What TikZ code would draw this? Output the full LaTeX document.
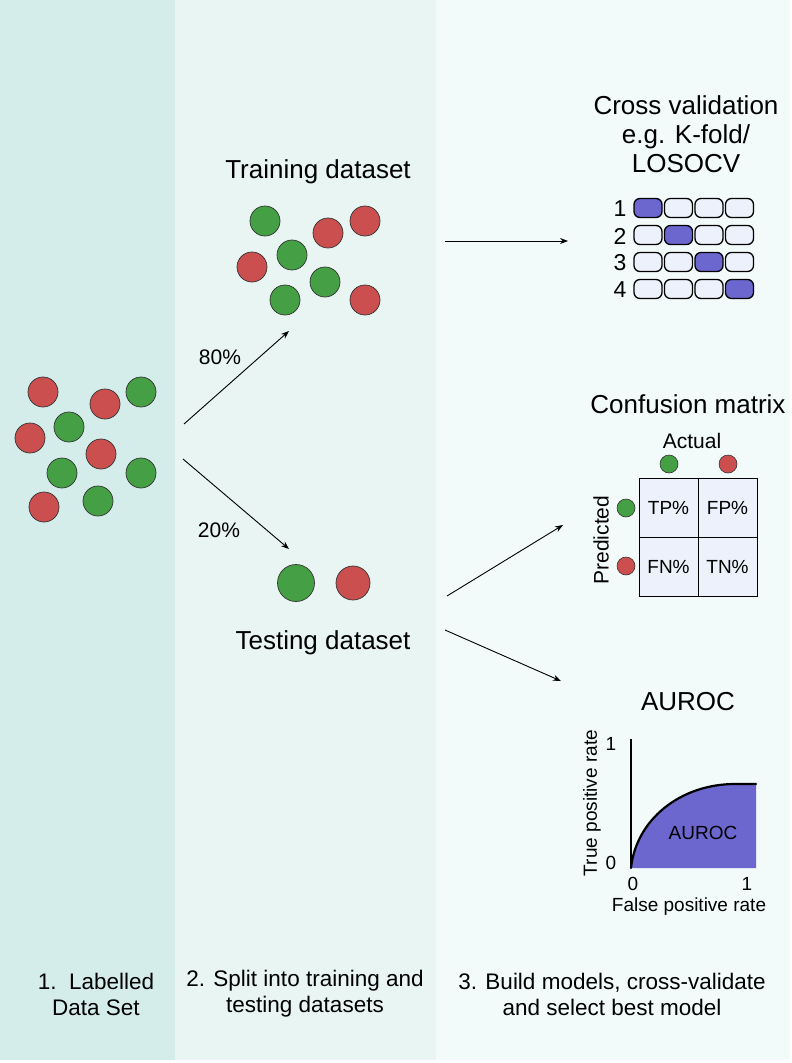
\documentclass[tikz,border=0pt]{standalone}
\usepackage{fontspec}
\setmainfont{Liberation Sans}
\usetikzlibrary{arrows.meta}
\definecolor{pone}{HTML}{D4EDEA}
\definecolor{ptwo}{HTML}{E8F5F3}
\definecolor{pthree}{HTML}{F3FAFA}
\definecolor{gcol}{HTML}{45A045}
\definecolor{rcol}{HTML}{CC4F4F}
\definecolor{purp}{HTML}{6B67CF}
\definecolor{lbox}{HTML}{EDF1FB}
\tikzset{
  ball/.style={circle, draw=black!80, line width=0.7pt, inner sep=0pt, minimum size=30pt},
  gball/.style={ball, fill=gcol},
  rball/.style={ball, fill=rcol},
  sball/.style={circle, draw=black!80, line width=0.6pt, inner sep=0pt, minimum size=18pt},
  arr/.style={line width=0.9pt, -{Stealth[length=8pt,width=6pt]}},
  title/.style={font=\fontsize{26}{29}\selectfont, align=center},
  mid/.style={font=\fontsize{21}{24}\selectfont},
  small/.style={font=\fontsize{19}{22}\selectfont},
  bottom/.style={font=\fontsize{22.5}{26}\selectfont, align=center},
  fold/.style={draw=black, line width=1.3pt, rounded corners=6pt, minimum width=28pt, minimum height=19pt, inner sep=0pt, fill=lbox},
  foldon/.style={fold, fill=purp},
  cell/.style={draw=black, line width=1pt, minimum size=59pt, inner sep=0pt, fill=lbox, font=\fontsize{19}{22}\selectfont}
}
\begin{document}
\begin{tikzpicture}[x=1pt,y=-1pt]
\useasboundingbox (0,0) rectangle (792,1063);
\fill[pone] (0,0) rectangle (175,1060);
\fill[ptwo] (175,0) rectangle (436,1060);
\fill[pthree] (436,0) rectangle (790,1060);

% labelled data set
\node[rball] (l1) at (43,392) {};
\node[rball] (l2) at (105,404) {};
\node[gball] (l3) at (141,392) {};
\node[gball] (l4) at (69,427) {};
\node[rball] (l5) at (30,438) {};
\node[rball] (l6) at (101,454) {};
\node[gball] (l7) at (62,473) {};
\node[gball] (l8) at (141,473) {};
\node[rball] (l9) at (44,507) {};
\node[gball] (l10) at (98,501) {};

% training
\node[title] (train) at (318,172) {Training dataset};
\node[gball] (t1) at (265,221) {};
\node[rball] (t2) at (328,233) {};
\node[rball] (t3) at (365,221) {};
\node[gball] (t4) at (292,255) {};
\node[rball] (t5) at (252,267) {};
\node[gball] (t6) at (325,282) {};
\node[gball] (t7) at (285,300) {};
\node[rball] (t8) at (365,300) {};

% testing
\node[gball, minimum size=37pt] (s1) at (296,583) {};
\node[rball, minimum size=34pt] (s2) at (353,583) {};
\node[title] (test) at (323,643) {Testing dataset};

% split arrows
\coordinate (a1s) at (184,424);
\coordinate (a1e) at (289,331);
\coordinate (a2s) at (183,459);
\coordinate (a2e) at (289,549);
\draw[arr] (a1s) -- (a1e);
\draw[arr] (a2s) -- (a2e);
\node[mid] (p80) at (220,357) {80\%};
\node[mid] (p20) at (219,530) {20\%};

% right arrows
\coordinate (b1s) at (445,241);
\coordinate (b1e) at (568,241);
\coordinate (b2s) at (447,596);
\coordinate (b2e) at (563,525);
\coordinate (b3s) at (445,630);
\coordinate (b3e) at (561,681);
\draw[arr] (b1s) -- (b1e);
\draw[arr] (b2s) -- (b2e);
\draw[arr] (b3s) -- (b3e);

% cross validation
\node[title] (cv) at (686,134) {Cross validation\\ e.g. K-fold/\\LOSOCV};
\foreach \i in {1,...,4}{
  \node[mid, font=\fontsize{23}{25}\selectfont] (n\i) at (620,{209+27*(\i-1)}) {\i};
  \foreach \j in {1,...,4}{
    \ifnum\i=\j
      \node[foldon] (f\i\j) at ({648+30.5*(\j-1)},{208+27*(\i-1)}) {};
    \else
      \node[fold] (f\i\j) at ({648+30.5*(\j-1)},{208+27*(\i-1)}) {};
    \fi
  }
}

% confusion matrix
\node[title] (cm) at (688,404) {Confusion matrix};
\node[mid] (act) at (692,441) {Actual};
\node[sball, fill=gcol] (ag) at (669,464) {};
\node[sball, fill=rcol] (ar) at (728,464) {};
\node[cell] (tp) at (668.5,507.5) {TP\%};
\node[cell] (fp) at (727.5,507.5) {FP\%};
\node[cell] (fn) at (668.5,566.5) {FN\%};
\node[cell] (tn) at (727.5,566.5) {TN\%};
\node[sball, fill=gcol] (pg) at (626,508) {};
\node[sball, fill=rcol] (pr) at (626,566) {};
\node[mid, rotate=90] (pred) at (601,540) {Predicted};

% AUROC
\node[title] (au) at (688,702) {AUROC};
\coordinate (o) at (631,868);
\coordinate (ytop) at (631,739);
\fill[purp] (o) .. controls (636,820) and (680,784) .. (735,784) -- (756,784) -- (756,868) -- cycle;
\draw[line width=2.2pt, line cap=round] (o) .. controls (636,820) and (680,784) .. (735,784) -- (756,784);
\draw[line width=1.6pt] (ytop) -- (o);
\node[small] (auin) at (703,833) {AUROC};
\node[small] (y1) at (611,744) {1};
\node[small] (y0) at (611,863) {0};
\node[small] (x0) at (633,884) {0};
\node[small] (x1) at (747,884) {1};
\node[small] (xl) at (689,907) {False positive rate};
\node[small, rotate=90] (yl) at (592,803) {True positive rate};

% bottom captions
\node[bottom] (c1) at (96,994) {1.\ \ Labelled\\Data Set};
\node[bottom] (c2) at (305,994) {2. Split into training and\\testing datasets};
\node[bottom] (c3) at (612,994) {3. Build models, cross-validate\\and select best model};
\end{tikzpicture}
\end{document}
